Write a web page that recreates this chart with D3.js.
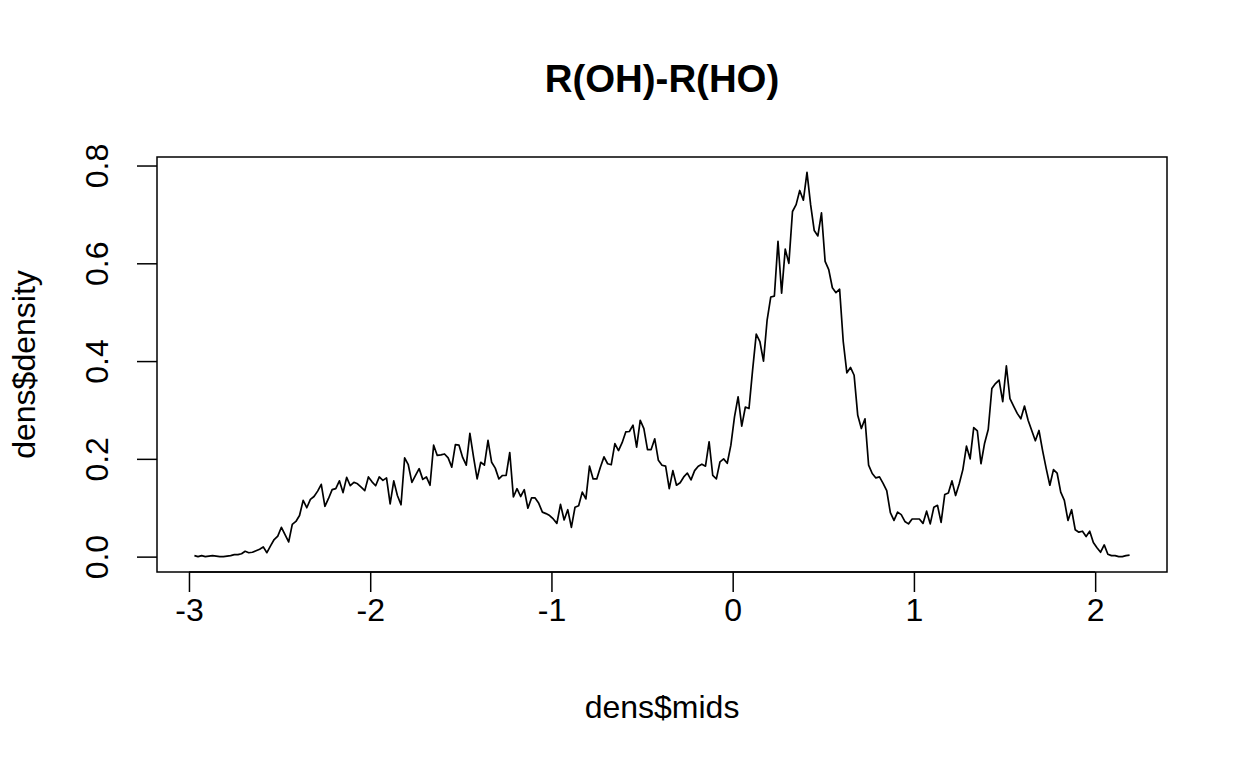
<!DOCTYPE html>
<html>
<head>
<meta charset="utf-8">
<script src="https://cdn.jsdelivr.net/npm/d3@7"></script>
<style>
  body { margin: 0; background: #fff; }
  text { font-family: "Liberation Sans", Arial, Helvetica, sans-serif; fill: #000; }
</style>
</head>
<body>
<svg id="chart" width="1248" height="768"></svg>
<script>
// histogram mids (0.02 bins)
const mids = [
  -2.97,-2.95,-2.93,-2.91,-2.89,-2.87,-2.85,-2.83,-2.81,-2.79,
  -2.77,-2.75,-2.73,-2.71,-2.69,-2.67,-2.65,-2.63,-2.61,-2.59,
  -2.57,-2.55,-2.53,-2.51,-2.49,-2.47,-2.45,-2.43,-2.41,-2.39,
  -2.37,-2.35,-2.33,-2.31,-2.29,-2.27,-2.25,-2.23,-2.21,-2.19,
  -2.17,-2.15,-2.13,-2.11,-2.09,-2.07,-2.05,-2.03,-2.01,-1.99,
  -1.97,-1.95,-1.93,-1.91,-1.89,-1.87,-1.85,-1.83,-1.81,-1.79,
  -1.77,-1.75,-1.73,-1.71,-1.69,-1.67,-1.65,-1.63,-1.61,-1.59,
  -1.57,-1.55,-1.53,-1.51,-1.49,-1.47,-1.45,-1.43,-1.41,-1.39,
  -1.37,-1.35,-1.33,-1.31,-1.29,-1.27,-1.25,-1.23,-1.21,-1.19,
  -1.17,-1.15,-1.13,-1.11,-1.09,-1.07,-1.05,-1.03,-1.01,-0.99,
  -0.97,-0.95,-0.93,-0.91,-0.89,-0.87,-0.85,-0.83,-0.81,-0.79,
  -0.77,-0.75,-0.73,-0.71,-0.69,-0.67,-0.65,-0.63,-0.61,-0.59,
  -0.57,-0.55,-0.53,-0.51,-0.49,-0.47,-0.45,-0.43,-0.41,-0.39,
  -0.37,-0.35,-0.33,-0.31,-0.29,-0.27,-0.25,-0.23,-0.21,-0.19,
  -0.17,-0.15,-0.13,-0.11,-0.09,-0.07,-0.05,-0.03,-0.01,0.01,
  0.03,0.05,0.07,0.09,0.11,0.13,0.15,0.17,0.19,0.21,
  0.23,0.25,0.27,0.29,0.31,0.33,0.35,0.37,0.39,0.41,
  0.43,0.45,0.47,0.49,0.51,0.53,0.55,0.57,0.59,0.61,
  0.63,0.65,0.67,0.69,0.71,0.73,0.75,0.77,0.79,0.81,
  0.83,0.85,0.87,0.89,0.91,0.93,0.95,0.97,0.99,1.01,
  1.03,1.05,1.07,1.09,1.11,1.13,1.15,1.17,1.19,1.21,
  1.23,1.25,1.27,1.29,1.31,1.33,1.35,1.37,1.39,1.41,
  1.43,1.45,1.47,1.49,1.51,1.53,1.55,1.57,1.59,1.61,
  1.63,1.65,1.67,1.69,1.71,1.73,1.75,1.77,1.79,1.81,
  1.83,1.85,1.87,1.89,1.91,1.93,1.95,1.97,1.99,2.01,
  2.03,2.05,2.07,2.09,2.11,2.13,2.15,2.17,2.19
];

const density = [
  0.002,0.000,0.002,0.000,0.001,0.002,0.001,0.000,0.000,0.001,
  0.002,0.004,0.004,0.006,0.011,0.008,0.009,0.012,0.015,0.020,
  0.008,0.022,0.035,0.042,0.060,0.045,0.030,0.066,0.072,0.084,
  0.115,0.100,0.117,0.123,0.134,0.148,0.103,0.119,0.137,0.139,
  0.155,0.131,0.162,0.145,0.152,0.149,0.142,0.135,0.163,0.153,
  0.145,0.163,0.156,0.161,0.108,0.155,0.125,0.106,0.202,0.188,
  0.152,0.166,0.180,0.158,0.163,0.146,0.228,0.207,0.208,0.210,
  0.202,0.183,0.229,0.228,0.203,0.187,0.252,0.204,0.159,0.193,
  0.187,0.238,0.193,0.181,0.159,0.166,0.166,0.213,0.122,0.139,
  0.123,0.137,0.099,0.120,0.120,0.109,0.091,0.088,0.084,0.077,
  0.068,0.107,0.075,0.096,0.060,0.101,0.104,0.132,0.118,0.185,
  0.159,0.159,0.183,0.204,0.190,0.188,0.231,0.217,0.233,0.255,
  0.256,0.269,0.224,0.279,0.262,0.219,0.219,0.241,0.197,0.187,
  0.185,0.139,0.176,0.146,0.151,0.163,0.171,0.157,0.176,0.185,
  0.189,0.185,0.235,0.166,0.159,0.194,0.200,0.191,0.228,0.286,
  0.327,0.267,0.306,0.303,0.382,0.455,0.440,0.400,0.484,0.531,
  0.533,0.645,0.539,0.629,0.600,0.706,0.720,0.749,0.729,0.786,
  0.720,0.667,0.656,0.703,0.604,0.587,0.550,0.540,0.547,0.440,
  0.376,0.387,0.371,0.289,0.262,0.282,0.187,0.170,0.161,0.163,
  0.150,0.135,0.090,0.074,0.091,0.086,0.072,0.067,0.077,0.077,
  0.077,0.068,0.093,0.067,0.101,0.105,0.070,0.127,0.130,0.155,
  0.125,0.149,0.178,0.226,0.200,0.264,0.257,0.190,0.232,0.260,
  0.344,0.354,0.361,0.317,0.390,0.323,0.308,0.293,0.282,0.308,
  0.279,0.258,0.237,0.258,0.217,0.180,0.146,0.178,0.171,0.132,
  0.115,0.074,0.096,0.055,0.050,0.052,0.041,0.052,0.029,0.018,
  0.009,0.024,0.005,0.002,0.002,0.000,0.000,0.002,0.003
];

const xTicks = [-3, -2, -1, 0, 1, 2];
const yTicks = [0, 0.2, 0.4, 0.6, 0.8];
const mainTitle = "R(OH)-R(HO)";
const xLabel = "dens$mids";
const yLabel = "dens$density";

const w = 1248, h = 768;
const plotL = 157, plotR = 1167, plotT = 157, plotB = 572;

// R pads the data range by 4% on each side
function padded(v) {
  const [a, b] = d3.extent(v);
  const p = (b - a) * 0.04;
  return [a - p, b + p];
}

const x = d3.scaleLinear().domain(padded(mids)).range([plotL, plotR]);
const y = d3.scaleLinear().domain(padded(density)).range([plotB, plotT]);

const svg = d3.select("#chart")
  .attr("width", w)
  .attr("height", h);

svg.append("rect")
  .attr("width", w)
  .attr("height", h)
  .attr("fill", "#fff");

// x axis
const gx = svg.append("g")
  .attr("transform", `translate(0,${plotB})`)
  .call(d3.axisBottom(x).tickValues(xTicks).tickSize(20).tickFormat(d => String(d)));
gx.select(".domain").remove();
gx.selectAll(".tick line").attr("stroke", "#000").attr("stroke-width", 1.5);
gx.selectAll(".tick text")
  .attr("y", 49)
  .attr("dy", 0)
  .attr("font-size", 32)
  .attr("font-family", null);

// y axis
const gy = svg.append("g")
  .attr("transform", `translate(${plotL},0)`)
  .call(d3.axisLeft(y).tickValues(yTicks).tickSize(20).tickFormat(d3.format(".1f")));
gy.select(".domain").remove();
gy.selectAll(".tick line").attr("stroke", "#000").attr("stroke-width", 1.5);
gy.selectAll(".tick text")
  .attr("transform", "rotate(-90)")
  .attr("x", 0)
  .attr("y", -49)
  .attr("dy", 0)
  .attr("text-anchor", "middle")
  .attr("font-size", 32)
  .attr("font-family", null);

// axis lines between first and last tick
svg.append("line")
  .attr("x1", x(xTicks[0])).attr("x2", x(xTicks[xTicks.length - 1]))
  .attr("y1", plotB).attr("y2", plotB)
  .attr("stroke", "#000").attr("stroke-width", 1.5);

// plot box
svg.append("rect")
  .attr("x", plotL)
  .attr("y", plotT)
  .attr("width", plotR - plotL)
  .attr("height", plotB - plotT)
  .attr("fill", "none")
  .attr("stroke", "#000")
  .attr("stroke-width", 1.5);

// density line
const line = d3.line()
  .x((d, i) => x(mids[i]))
  .y(d => y(d));

svg.append("path")
  .datum(density)
  .attr("d", line)
  .attr("fill", "none")
  .attr("stroke", "#000")
  .attr("stroke-width", 1.7)
  .attr("stroke-linejoin", "round");

// titles
svg.append("text")
  .attr("x", (plotL + plotR) / 2)
  .attr("y", 92)
  .attr("text-anchor", "middle")
  .attr("font-size", 38.4)
  .attr("font-weight", "bold")
  .text(mainTitle);

svg.append("text")
  .attr("x", (plotL + plotR) / 2)
  .attr("y", 718)
  .attr("text-anchor", "middle")
  .attr("font-size", 32)
  .text(xLabel);

svg.append("text")
  .attr("transform", `translate(35,${(plotT + plotB) / 2}) rotate(-90)`)
  .attr("text-anchor", "middle")
  .attr("font-size", 32)
  .text(yLabel);
</script>
</body>
</html>
